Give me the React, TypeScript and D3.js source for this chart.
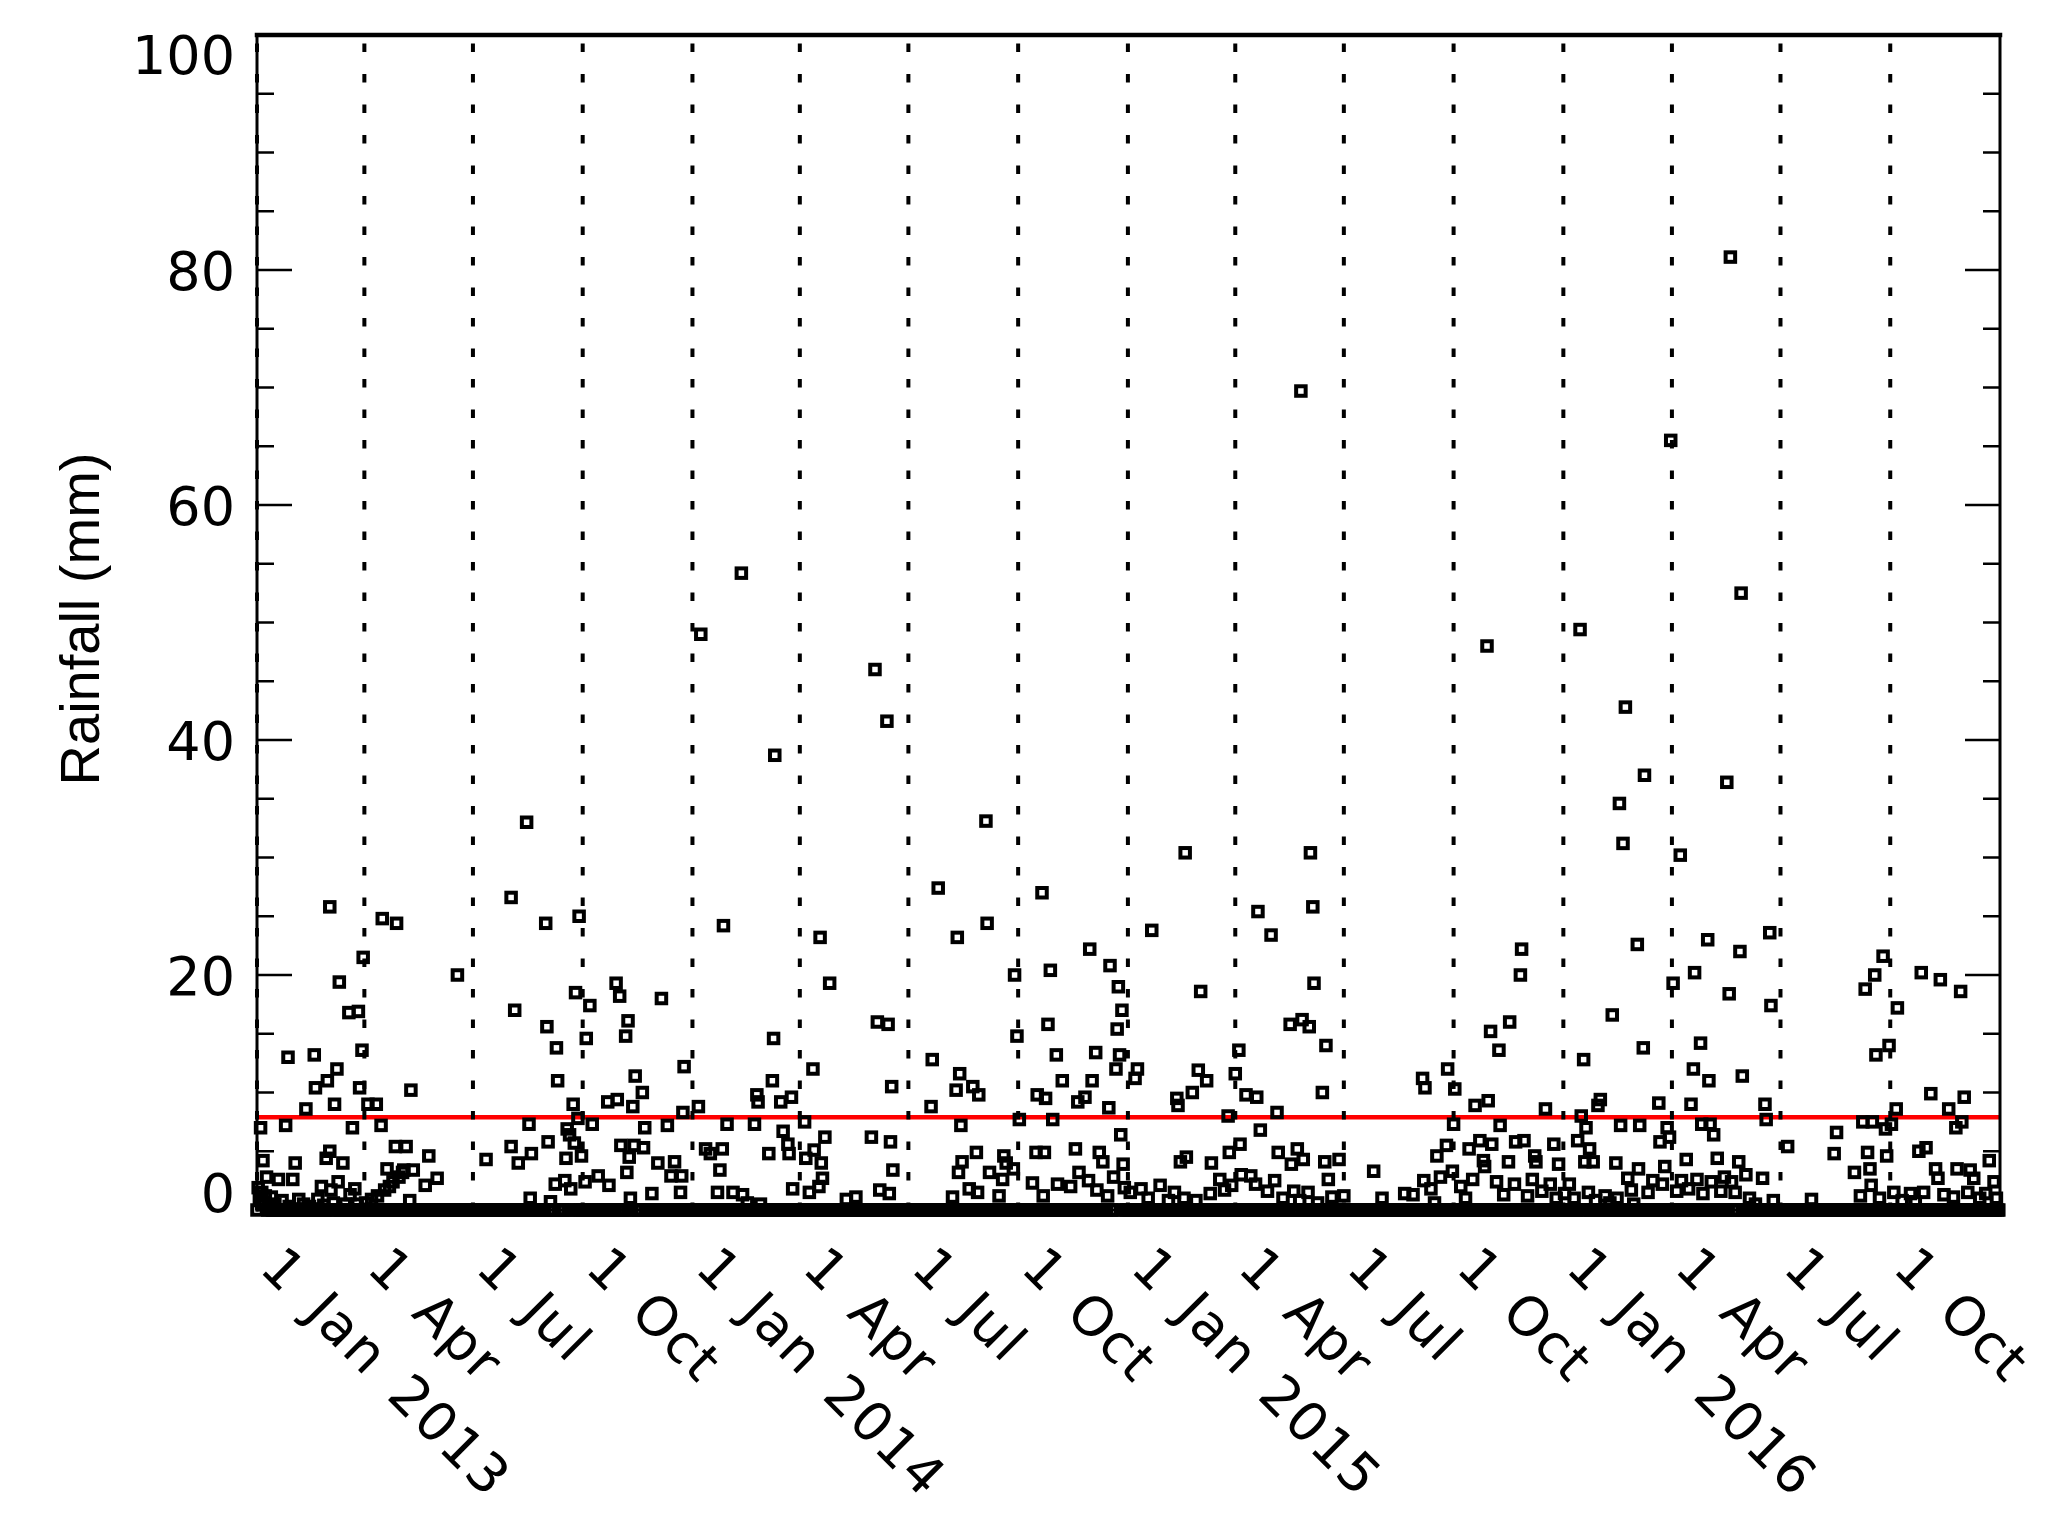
import React from 'react';
import * as d3 from 'd3';

// daily rainfall readings: [day of year, mm]; days not listed were recorded as 0 mm
const rain2013: [number, number][] = [
  [2, 1.9], [3, 0.9], [4, 7.0], [5, 1.5], [6, 4.2], [7, 0.6], [8, 1.2], [9, 2.8], [11, 0.4], [13, 1.1],
  [16, 0.5], [19, 2.6], [22, 0.8], [25, 7.2], [27, 13.0], [28, 0.3], [31, 2.6], [33, 4.0], [36, 0.9], [40, 0.5],
  [42, 8.6], [45, 0.3], [49, 13.2], [50, 10.4], [52, 0.9], [55, 2.0], [57, 0.4], [59, 4.4], [60, 11.0], [62, 25.8],
  [62, 5.0], [63, 1.7], [65, 0.6], [66, 9.0], [68, 12.0], [69, 2.4], [70, 19.4], [73, 4.0], [75, 0.5], [78, 16.8],
  [79, 1.3], [81, 7.0], [83, 1.8], [85, 0.5], [86, 16.9], [87, 10.4], [89, 13.6], [90, 21.5], [92, 0.6], [94, 9.0],
  [97, 0.9], [101, 9.0], [102, 1.2], [105, 7.2], [106, 24.8], [108, 1.7], [110, 3.5], [112, 2.0], [115, 2.4], [117, 5.4],
  [118, 24.4], [120, 2.8], [123, 3.2], [124, 3.4], [126, 5.4], [129, 0.8], [130, 10.2], [132, 3.4], [142, 2.1], [145, 4.6],
  [152, 2.7], [169, 20.0], [193, 4.3], [214, 26.6], [214, 5.4], [217, 17.0], [220, 4.0], [227, 33.0], [229, 7.3], [230, 1.0],
  [231, 4.8], [243, 24.4], [244, 15.6], [245, 5.8], [247, 0.7], [251, 2.2], [252, 13.8], [253, 11.0], [259, 2.5], [260, 4.4],
  [261, 6.9], [263, 6.4], [264, 1.8], [266, 9.0], [267, 5.7], [268, 18.5], [270, 7.8], [271, 25.0], [273, 4.6], [276, 2.4],
  [277, 14.6], [280, 17.4], [282, 7.3], [287, 2.9], [295, 9.2], [296, 2.1], [302, 19.3], [303, 9.4], [305, 18.2], [306, 5.5],
  [310, 14.8], [311, 3.2], [312, 16.1], [314, 1.0], [313, 4.5], [316, 8.8], [317, 5.5], [318, 11.4], [324, 10.0], [325, 5.3],
  [326, 7.0], [332, 1.4], [337, 4.0], [340, 18.0], [345, 7.2], [348, 2.9], [351, 4.1], [356, 1.5], [357, 2.9], [358, 8.3],
  [359, 12.2],
];

const rain2014: [number, number][] = [
  [6, 8.8], [8, 49.0], [12, 5.2], [16, 4.8], [22, 1.5], [24, 3.4], [26, 5.2], [27, 24.2], [30, 7.3], [35, 1.5],
  [42, 54.2], [43, 1.3], [47, 0.6], [53, 7.3], [55, 9.8], [56, 9.2], [58, 0.5], [65, 4.8], [69, 14.6], [68, 11.0],
  [70, 38.7], [75, 9.2], [77, 6.7], [81, 5.6], [82, 4.8], [84, 9.6], [85, 1.8], [95, 7.5], [96, 4.4], [99, 1.5],
  [102, 12.0], [103, 5.1], [107, 2.0], [108, 23.2], [109, 4.0], [110, 2.7], [112, 6.2], [116, 19.3], [130, 0.9], [138, 1.1],
  [151, 6.2], [154, 46.0], [156, 16.0], [158, 1.7], [164, 41.6], [165, 15.8], [167, 5.8], [166, 1.4], [168, 10.5], [169, 3.4],
  [201, 8.8], [202, 12.8], [207, 27.4], [219, 1.1], [222, 10.2], [223, 23.2], [225, 11.6], [224, 3.2], [226, 7.2], [227, 4.1],
  [233, 1.8], [236, 10.5], [239, 4.9], [240, 1.5], [241, 9.8], [247, 33.1], [248, 24.4], [250, 3.2], [258, 1.2], [261, 2.6],
  [262, 4.6], [264, 4.0], [270, 3.5], [271, 20.0], [273, 14.8], [275, 7.7], [286, 2.3], [289, 4.9], [290, 9.8], [294, 27.0],
  [295, 1.2], [296, 4.9], [297, 9.5], [299, 15.8], [301, 20.4], [303, 7.7], [306, 13.2], [307, 2.2], [311, 11.0], [318, 2.0],
  [322, 5.2], [324, 9.2], [325, 3.2], [330, 9.6], [333, 2.5], [334, 22.2], [336, 11.0], [339, 13.4], [340, 1.7], [342, 4.9],
  [345, 4.1], [349, 1.2], [350, 8.7], [351, 20.8], [354, 2.8], [356, 12.0], [357, 15.4], [358, 19.0], [359, 13.2], [360, 6.4],
  [361, 17.0], [362, 3.9], [363, 1.9],
];

const rain2015: [number, number][] = [
  [3, 1.5], [7, 11.2], [9, 12.0], [12, 1.8], [18, 1.0], [21, 23.8], [28, 2.1], [35, 0.8], [40, 1.5], [42, 9.5],
  [43, 8.9], [45, 4.1], [48, 1.0], [49, 30.4], [50, 4.5], [55, 10.0], [58, 0.8], [60, 11.9], [62, 18.6], [67, 11.0],
  [70, 1.4], [71, 4.0], [78, 2.6], [82, 1.7], [85, 8.0], [86, 4.9], [88, 2.1], [91, 11.6], [94, 13.6], [95, 5.6],
  [96, 3.0], [100, 9.8], [104, 2.9], [108, 2.2], [109, 9.6], [110, 25.4], [112, 6.8], [118, 1.6], [121, 23.4], [124, 2.5],
  [126, 8.3], [127, 4.9], [131, 1.0], [137, 15.8], [138, 3.9], [140, 1.6], [143, 5.2], [145, 0.8], [146, 69.7], [147, 16.2],
  [148, 4.3], [152, 1.5], [153, 15.6], [154, 30.4], [156, 25.8], [157, 19.3], [160, 0.6], [164, 10.0], [166, 4.1], [167, 14.0],
  [169, 2.6], [172, 1.1], [178, 4.3], [182, 1.2], [207, 3.3], [214, 1.0], [233, 1.4], [240, 1.3], [248, 11.2], [249, 2.5],
  [250, 10.4], [255, 1.8], [258, 0.6], [260, 4.6], [263, 2.8], [268, 5.5], [269, 12.0], [273, 3.3], [274, 7.3], [275, 10.3],
  [280, 2.0], [284, 1.0], [287, 5.2], [290, 2.6], [292, 8.9], [296, 5.9], [299, 4.2], [300, 3.7], [302, 48.0], [303, 9.3],
  [305, 15.2], [306, 5.6], [310, 2.4], [312, 13.6], [313, 7.2], [316, 1.3], [320, 4.1], [321, 16.0], [325, 2.2], [326, 5.8],
  [330, 20.0], [331, 22.2], [333, 5.9], [336, 1.2], [340, 2.6], [342, 4.6], [343, 4.1], [348, 1.6], [351, 8.6], [355, 2.2],
  [358, 5.6], [360, 1.0], [362, 3.9],
];

const rain2016: [number, number][] = [
  [2, 1.4], [6, 2.2], [10, 1.0], [13, 5.9], [15, 49.4], [16, 8.0], [18, 12.8], [19, 4.1], [20, 7.0], [22, 1.5],
  [23, 5.2], [26, 4.1], [28, 0.8], [30, 8.9], [32, 9.4], [36, 1.2], [40, 0.6], [42, 16.6], [45, 4.0], [46, 1.0],
  [48, 34.6], [49, 7.2], [51, 31.2], [53, 42.8], [55, 2.7], [58, 1.7], [60, 0.5], [63, 22.6], [64, 3.5], [65, 7.2],
  [68, 13.8], [69, 37.0], [72, 1.5], [76, 2.5], [81, 9.1], [82, 5.8], [84, 2.2], [86, 3.7], [88, 7.0], [90, 6.2],
  [91, 65.5], [93, 19.3], [96, 1.6], [99, 30.2], [100, 2.5], [104, 4.3], [106, 1.8], [108, 9.0], [110, 12.0], [111, 20.2],
  [113, 2.6], [116, 14.2], [117, 7.3], [118, 1.4], [122, 23.0], [123, 11.0], [124, 7.3], [125, 2.4], [127, 6.4], [130, 4.4],
  [133, 1.6], [136, 2.8], [138, 36.4], [140, 18.4], [141, 81.1], [142, 2.4], [145, 1.5], [149, 22.0], [148, 4.1], [150, 52.5],
  [151, 11.4], [154, 3.0], [157, 1.0], [162, 0.5], [168, 2.7], [170, 9.0], [171, 7.7], [174, 23.6], [175, 17.4], [177, 0.8],
  [189, 5.4], [209, 0.9], [228, 4.8], [230, 6.6], [245, 3.2], [250, 1.2], [252, 7.5], [254, 18.8], [256, 4.9], [258, 3.5],
  [259, 2.1], [260, 7.5], [262, 20.0], [263, 13.2], [266, 1.0], [269, 21.6], [271, 6.9], [272, 4.6], [274, 14.0], [276, 7.3],
  [278, 1.5], [280, 8.6], [281, 17.2], [285, 0.8], [292, 1.4], [296, 0.7], [299, 5.0], [301, 20.2], [303, 1.5], [305, 5.3],
  [309, 9.9], [313, 3.5], [315, 2.7], [317, 19.6], [320, 1.3], [324, 8.6], [328, 1.1], [330, 7.0], [331, 3.5], [334, 18.6],
  [335, 7.5], [337, 9.6], [340, 1.5], [342, 3.4], [345, 2.7], [350, 1.0], [355, 1.4], [358, 4.2], [362, 2.4], [364, 1.0],
];

const years = [2013, 2014, 2015, 2016];
const rainByYear = [rain2013, rain2014, rain2015, rain2016];
const recordStart = '2013-01-01';
const recordEnd = '2016-12-31';
const axisStart = '2013-01-01';
const axisEnd = '2017-01-01';

// mean daily rainfall (red line)
const meanRain = 7.9;

const yTicks = [0, 20, 40, 60, 80, 100];
const yMinor = [5, 10, 15, 25, 30, 35, 45, 50, 55, 65, 70, 75, 85, 90, 95];

const tickDates = [
  '2013-01-01', '2013-04-01', '2013-07-01', '2013-10-01',
  '2014-01-01', '2014-04-01', '2014-07-01', '2014-10-01',
  '2015-01-01', '2015-04-01', '2015-07-01', '2015-10-01',
  '2016-01-01', '2016-04-01', '2016-07-01', '2016-10-01',
];
const tickLabels = [
  '1 Jan 2013', '1 Apr', '1 Jul', '1 Oct',
  '1 Jan 2014', '1 Apr', '1 Jul', '1 Oct',
  '1 Jan 2015', '1 Apr', '1 Jul', '1 Oct',
  '1 Jan 2016', '1 Apr', '1 Jul', '1 Oct',
];

const W = 2067;
const H = 1532;
const left = 257, right = 2000, top = 35, bottom = 1210;
const font = '"DejaVu Sans", sans-serif';

export default function App() {
  const parse = d3.utcParse('%Y-%m-%d');
  const x = d3.scaleUtc().domain([parse(axisStart)!, parse(axisEnd)!]).range([left, right]);
  const y = d3.scaleLinear().domain([0, 100]).range([bottom, top]);

  const points: { date: Date; mm: number }[] = [];
  years.forEach((yr, i) => {
    rainByYear[i].forEach(([doy, mm]) => {
      points.push({ date: d3.utcDay.offset(new Date(Date.UTC(yr, 0, 1)), doy - 1), mm });
    });
  });
  const wet = new Set(points.map((p) => +p.date));
  const dry = d3.utcDay
    .range(parse(recordStart)!, d3.utcDay.offset(parse(recordEnd)!, 1))
    .filter((d) => !wet.has(+d))
    .map((date) => ({ date, mm: 0 }));
  const all = [...dry, ...points];

  const s = 9.5;

  return (
    <svg width={W} height={H} style={{ position: 'absolute', left: 0, top: 0, background: '#fff' }}>
      <rect x={0} y={0} width={W} height={H} fill="#fff" />

      {/* mean line */}
      <line x1={left} x2={right} y1={y(meanRain)} y2={y(meanRain)} stroke="#ff0000" strokeWidth={4.5} />

      {/* daily rainfall */}
      <g fill="none" stroke="#000" strokeWidth={4}>
        {all.map((p, i) => (
          <rect key={i} x={x(p.date) - s / 2} y={y(p.mm) - s / 2} width={s} height={s} />
        ))}
      </g>

      {/* quarter gridlines */}
      <g stroke="#000" strokeWidth={4} strokeDasharray="8.5 22" strokeDashoffset={22}>
        {tickDates.map((d) => (
          <line key={d} x1={x(parse(d)!)} x2={x(parse(d)!)} y1={top} y2={bottom} />
        ))}
      </g>

      {/* y ticks */}
      <g stroke="#000" strokeWidth={2.5}>
        {yTicks.map((t) => (
          <g key={t}>
            <line x1={left} x2={left + 35} y1={y(t)} y2={y(t)} />
            <line x1={right} x2={right - 35} y1={y(t)} y2={y(t)} />
          </g>
        ))}
        {yMinor.map((t) => (
          <g key={t}>
            <line x1={left} x2={left + 17} y1={y(t)} y2={y(t)} />
            <line x1={right} x2={right - 17} y1={y(t)} y2={y(t)} />
          </g>
        ))}
      </g>

      {/* frame */}
      <g stroke="#000" strokeLinecap="square">
        <line x1={left} x2={right} y1={top} y2={top} strokeWidth={4.5} />
        <line x1={left} x2={right} y1={bottom} y2={bottom} strokeWidth={3} />
        <line x1={left} x2={left} y1={top} y2={bottom} strokeWidth={3} />
        <line x1={right} x2={right} y1={top} y2={bottom} strokeWidth={3} />
      </g>

      {/* y labels */}
      <g fontFamily={font} fontSize={54} textAnchor="end" fill="#000">
        {yTicks.map((t) => {
          const base = Math.min(Math.max(y(t) + 20, top + 39), bottom + 2);
          return (
            <text key={t} x={235} y={base}>
              {t}
            </text>
          );
        })}
      </g>

      {/* x labels */}
      <g fontFamily={font} fontSize={54} fill="#000" letterSpacing={2} wordSpacing={8}>
        {tickDates.map((d, i) => {
          const px = x(parse(d)!) + 1;
          const py = 1270;
          return (
            <text key={d} x={px} y={py} transform={`rotate(45 ${px} ${py})`}>
              {tickLabels[i]}
            </text>
          );
        })}
      </g>

      <text
        x={99}
        y={619}
        transform="rotate(-90 99 619)"
        textAnchor="middle"
        fontFamily='"Liberation Sans", Arial, sans-serif'
        fontSize={56}
        fill="#000"
      >
        Rainfall (mm)
      </text>
    </svg>
  );
}
